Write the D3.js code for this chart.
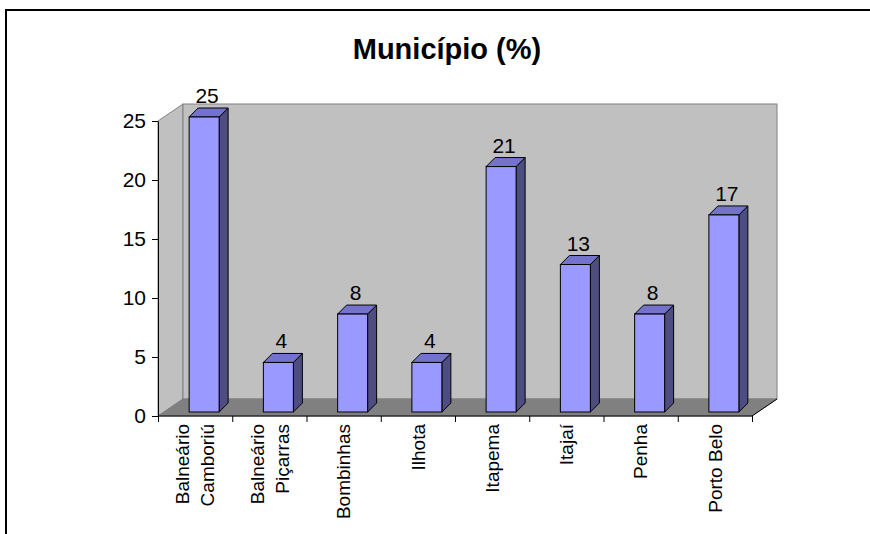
<!DOCTYPE html>
<html>
<head>
<meta charset="utf-8">
<script src="https://cdn.jsdelivr.net/npm/d3@7"></script>
<style>
  body { margin: 0; background: #fff; }
  text { font-family: "Liberation Sans", Arial, sans-serif; }
</style>
</head>
<body>
<div id="container"></div>
<script>
var categories = [["Balneário", "Camboriú"], ["Balneário", "Piçarras"], ["Bombinhas"], ["Ilhota"],
                  ["Itapema"], ["Itajaí"], ["Penha"], ["Porto Belo"]];
var values = [25, 4.2, 8.3, 4.2, 20.8, 12.5, 8.3, 16.7];
var yTicks = [0, 5, 10, 15, 20, 25];
var title = "Município (%)";

var width = 870, height = 534;

var svg = d3.select("#container")
    .append("svg")
    .attr("width", width)
    .attr("height", height);

// outer frame (runs off the right and bottom of the picture)
svg.append("rect")
    .attr("x", 6).attr("y", 10)
    .attr("width", 900).attr("height", 600)
    .attr("fill", "none")
    .attr("stroke", "#000")
    .attr("stroke-width", 2);

svg.append("text")
    .attr("x", 447).attr("y", 59)
    .attr("text-anchor", "middle")
    .attr("font-size", 29)
    .attr("font-weight", "bold")
    .text(title);

var left = 158, right = 752, depthX = 25, depthY = -17;

var y = d3.scaleLinear().domain([0, 25]).range([416, 121]);
var x = d3.scaleBand()
    .domain(d3.range(categories.length))
    .range([left, right])
    .paddingInner(0.596)
    .paddingOuter(0.298);
var xEdge = d3.scaleLinear().domain([0, categories.length]).range([left, right]);

var y0 = y(0), yTop = y(25);

// side wall
svg.append("path")
    .attr("d", "M" + left + "," + y0 + "L" + left + "," + yTop +
        "L" + (left + depthX) + "," + (yTop + depthY) +
        "L" + (left + depthX) + "," + (y0 + depthY) + "Z")
    .attr("fill", "#c0c0c0").attr("stroke", "#808080");

// back wall
svg.append("rect")
    .attr("x", left + depthX).attr("y", yTop + depthY)
    .attr("width", right - left).attr("height", y0 - yTop)
    .attr("fill", "#c0c0c0").attr("stroke", "#808080");

// floor
svg.append("path")
    .attr("d", "M" + left + "," + y0 + "L" + (left + depthX) + "," + (y0 + depthY) +
        "L" + (right + depthX) + "," + (y0 + depthY) + "L" + right + "," + y0 + "Z")
    .attr("fill", "#808080").attr("stroke", "#808080");
svg.append("path")
    .attr("d", "M" + left + "," + y0 + "L" + right + "," + y0 +
        "L" + (right + depthX) + "," + (y0 + depthY))
    .attr("fill", "none").attr("stroke", "#000");

// y axis
var yAxis = svg.append("g")
    .attr("transform", "translate(" + left + ",0)")
    .call(d3.axisLeft(y).tickValues(yTicks).tickSize(6).tickPadding(6).tickSizeOuter(0));
yAxis.selectAll("text").attr("font-size", 21).attr("fill", "#000")
    .style("font-family", "'Liberation Sans', Arial, sans-serif");
yAxis.selectAll("line, path").attr("stroke", "#000");

// x axis ticks at category edges
var xAxis = svg.append("g")
    .attr("transform", "translate(0," + y0 + ")")
    .call(d3.axisBottom(xEdge).tickValues(d3.range(categories.length + 1)).tickSize(6).tickFormat(""));
xAxis.select(".domain").remove();
xAxis.selectAll("line").attr("stroke", "#000");

// x labels
var lineGap = 25;
categories.forEach(function (lines, i) {
    var cx = x(i) + x.bandwidth() / 2;
    lines.forEach(function (t, j) {
        var lx = cx + (j - (lines.length - 1) / 2) * lineGap;
        svg.append("text")
            .attr("transform", "translate(" + lx + ",424) rotate(-90)")
            .attr("text-anchor", "end")
            .attr("dy", "0.35em")
            .attr("font-size", 19)
            .text(t);
    });
});

// bars
var shiftX = 9, shiftY = -4, bDx = 9, bDy = -9;
var bars = svg.append("g").selectAll("g")
    .data(values)
    .enter().append("g");

bars.each(function (v, i) {
    var g = d3.select(this);
    var x0 = x(i) + shiftX, x1 = x0 + x.bandwidth();
    var yb = y0 + shiftY, yt = y(v) + shiftY;
    g.append("path")
        .attr("d", "M" + x1 + "," + yb + "L" + x1 + "," + yt + "L" + (x1 + bDx) + "," + (yt + bDy) +
            "L" + (x1 + bDx) + "," + (yb + bDy) + "Z")
        .attr("fill", "#4d4d80").attr("stroke", "#000");
    g.append("path")
        .attr("d", "M" + x0 + "," + yt + "L" + (x0 + bDx) + "," + (yt + bDy) + "L" + (x1 + bDx) + "," + (yt + bDy) +
            "L" + x1 + "," + yt + "Z")
        .attr("fill", "#7373cc").attr("stroke", "#000");
    g.append("rect")
        .attr("x", x0).attr("y", yt)
        .attr("width", x1 - x0).attr("height", yb - yt)
        .attr("fill", "#9999ff").attr("stroke", "#000");
    g.append("text")
        .attr("x", (x0 + x1) / 2 + 3)
        .attr("y", yt + bDy - 5)
        .attr("text-anchor", "middle")
        .attr("font-size", 21)
        .text(Math.round(v));
});
</script>
</body>
</html>
